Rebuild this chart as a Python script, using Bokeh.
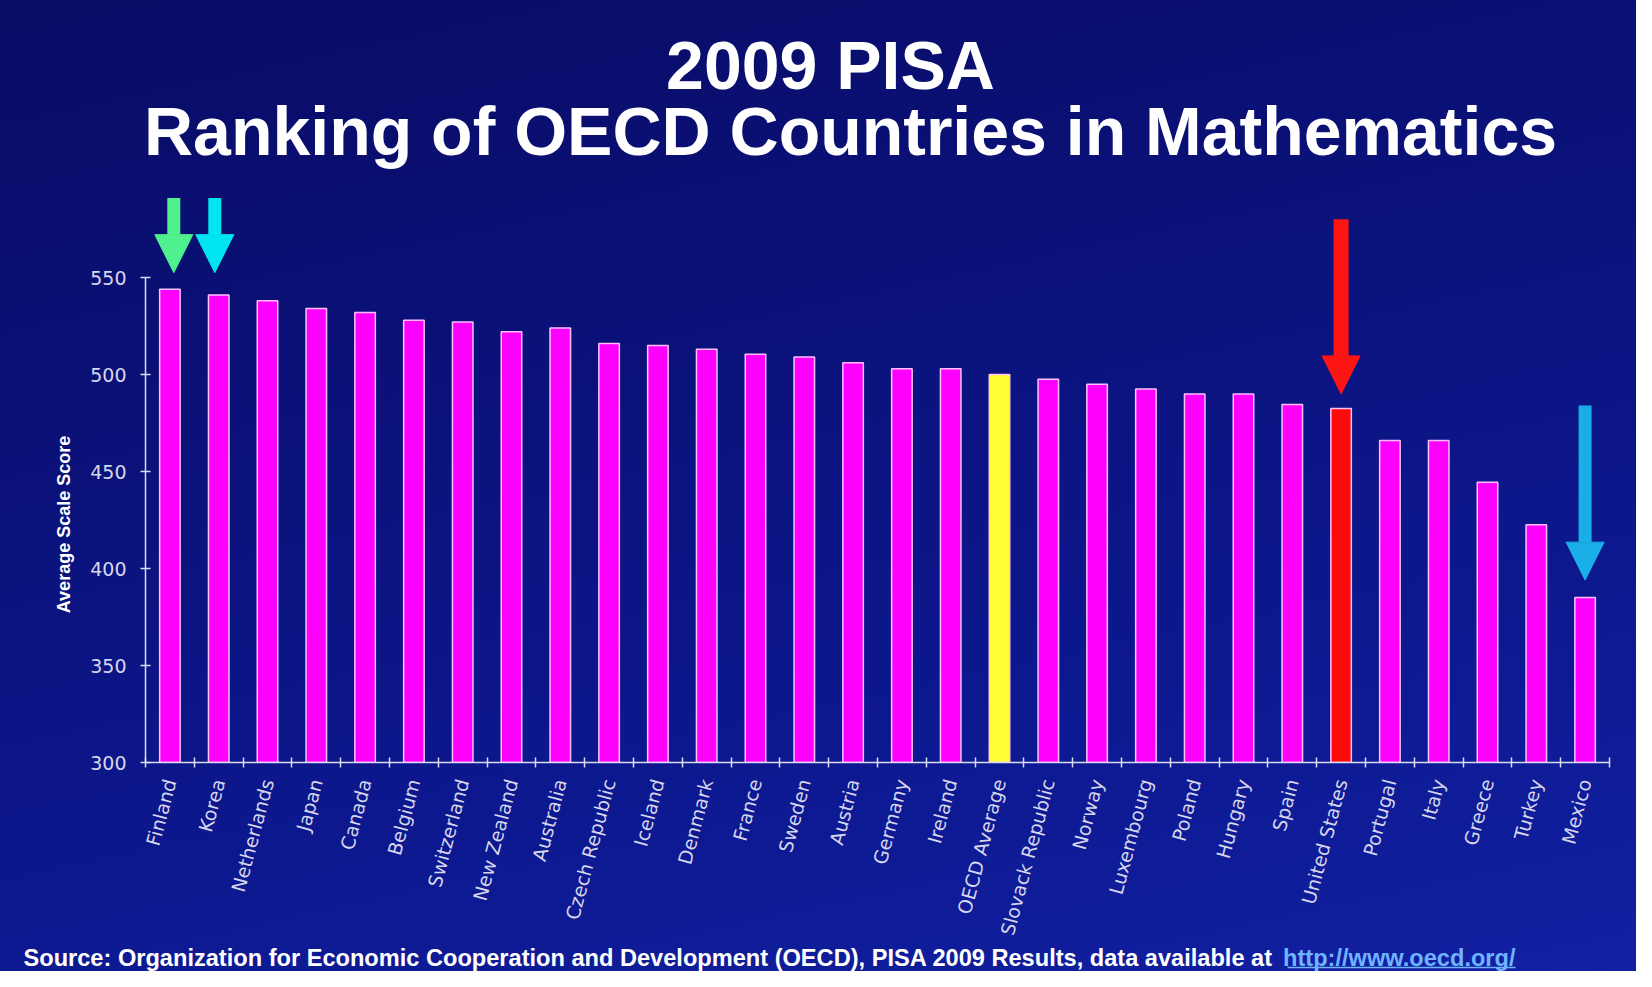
import math
from bokeh.plotting import figure
from bokeh.layouts import column, row
from bokeh.models import Range1d, LinearAxis, FixedTicker, Arrow, NormalHead, ColumnDataSource
from bokeh.core.properties import value
from bokeh.embed import file_html
from bokeh.resources import INLINE

# ---------------- data ----------------
countries = ["Finland", "Korea", "Netherlands", "Japan", "Canada", "Belgium", "Switzerland",
             "New Zealand", "Australia", "Czech Republic", "Iceland", "Denmark", "France",
             "Sweden", "Austria", "Germany", "Ireland", "OECD Average", "Slovack Republic",
             "Norway", "Luxembourg", "Poland", "Hungary", "Spain", "United States",
             "Portugal", "Italy", "Greece", "Turkey", "Mexico"]
scores = [544, 541, 538, 534, 532, 528, 527, 522, 524, 516, 515, 513, 510.5, 509, 506,
          503, 503, 500, 497.5, 495, 492.5, 490, 490, 484.5, 482.5, 466, 466, 444.5, 422.5, 385]
y_ticks = [300, 350, 400, 450, 500, 550]
y_label = "Average Scale Score"

highlight = {"OECD Average": "#ffff33", "United States": "#ff0a0a"}
BAR_COLOR = "#ff00ff"

arrow_targets = ["Finland", "Korea", "United States", "Mexico"]
arrow_colors = ["#4ff08e", "#00e6f0", "#ff1414", "#1aaee6"]
arrow_tail = [591, 591, 580, 484]
arrow_tip = [552.5, 552.5, 490, 394]
arrow_shift = [0.08, -0.08, 0.0, 0.0]
arrow_width = [13, 13, 15, 13]

title_lines = ["2009 PISA", "Ranking of OECD Countries in Mathematics"]
source_text = ("Source: Organization for Economic Cooperation and Development (OECD), "
               "PISA 2009 Results, data available at ")
source_link = "http://www.oecd.org/"

# ---------------- layout (pixels) ----------------
W, H = 1636, 971
TH = 180            # title strip height
SH = 28             # source strip height
MH = H - TH - SH    # main chart height
LW = 80             # y-label strip width
FL, FR, FT, FB = 145 - LW, 27, 0, 180
Y0, Y1 = 300, 600
BG_CSS = {"background": "linear-gradient(168deg, #090c66 0%, #0a1178 35%, #0c178c 65%, "
                        "#1220a2 100%)"}
AXIS_C = "#dcdcf0"
TICK_TXT = "#d6d6ec"
LINK_C = "#6fb4ff"
n = len(countries)


def strip(width, height):
    f = figure(width=width, height=height, x_range=Range1d(0, width), y_range=Range1d(height, 0),
               output_backend="svg", toolbar_location=None, title=None,
               x_axis_location=None, y_axis_location=None, min_border=0, frame_align=False,
               background_fill_color=None, border_fill_color=None, outline_line_color=None)
    f.grid.visible = False
    return f


# ---- title strip ----
tf = strip(W, TH)
tf.text(x=[830, 850], y=[64, 130], text=title_lines,
        text_align="center", text_baseline="alphabetic",
        text_font=value("Liberation Sans"), text_font_style="bold",
        text_font_size="68px", text_color="white")

# ---- y label strip ----
lf = strip(LW, MH)
lf.text(x=[63], y=[344], text=[y_label], angle=math.pi / 2,
        text_align="center", text_baseline="middle",
        text_font=value("Liberation Sans"), text_font_style="bold",
        text_font_size="18px", text_color="white")

# ---- main chart ----
p = figure(width=W - LW, height=MH,
           x_range=Range1d(0, n), y_range=Range1d(Y0, Y1),
           output_backend="svg", toolbar_location=None, title=None,
           x_axis_location=None, y_axis_location=None, frame_align=False,
           min_border_left=FL, min_border_right=FR, min_border_top=FT, min_border_bottom=FB,
           background_fill_color=None, border_fill_color=None, outline_line_color=None)
p.grid.visible = False

centers = [i + 0.5 for i in range(n)]
edges = [float(i) for i in range(n + 1)]
xaxis = LinearAxis(ticker=FixedTicker(ticks=centers, minor_ticks=edges),
                   major_label_overrides={c: name for c, name in zip(centers, countries)},
                   major_tick_in=0, major_tick_out=0, major_tick_line_color=None,
                   minor_tick_in=5, minor_tick_out=5, minor_tick_line_color=AXIS_C,
                   minor_tick_line_width=1.5,
                   axis_line_color=AXIS_C, axis_line_width=1.5,
                   major_label_orientation=math.radians(75),
                   major_label_standoff=12,
                   major_label_text_font="DejaVu Sans",
                   major_label_text_font_size="19px",
                   major_label_text_color=TICK_TXT)
p.add_layout(xaxis, "below")

yaxis = LinearAxis(ticker=FixedTicker(ticks=y_ticks), bounds=(y_ticks[0], y_ticks[-1]),
                   major_tick_in=5, major_tick_out=5, major_tick_line_color=AXIS_C,
                   major_tick_line_width=1.5,
                   minor_tick_line_color=None,
                   axis_line_color=AXIS_C, axis_line_width=1.5,
                   major_label_standoff=14,
                   major_label_text_font="DejaVu Sans",
                   major_label_text_font_size="19px",
                   major_label_text_color=TICK_TXT)
p.add_layout(yaxis, "left")

src = ColumnDataSource(dict(x=centers, country=countries, score=scores,
                            color=[highlight.get(c, BAR_COLOR) for c in countries]))
p.vbar(x="x", top="score", bottom=Y0, width=0.42, source=src,
       fill_color="color", line_color="#ffc0ff", line_width=1.5)

for tgt, col, tail, tip, sh, lw in zip(arrow_targets, arrow_colors, arrow_tail,
                                       arrow_tip, arrow_shift, arrow_width):
    xpos = centers[countries.index(tgt)] + sh
    p.add_layout(Arrow(x_start=xpos, y_start=tail, x_end=xpos, y_end=tip,
                       line_color=col, line_width=lw,
                       end=NormalHead(size=38, fill_color=col, line_color=col, line_width=1)))

# ---- source strip ----
sf = strip(W, SH)
sf.text(x=[23], y=[14], text=[source_text], text_align="left", text_baseline="alphabetic",
        text_font=value("Liberation Sans"), text_font_style="bold",
        text_font_size="23.6px", text_color="white")
sf.text(x=[1515], y=[14], text=[source_link], text_align="right", text_baseline="alphabetic",
        text_font=value("Liberation Sans"), text_font_style="bold",
        text_font_size="23.6px", text_color=LINK_C)
sf.segment(x0=[1287], y0=[24], x1=[1515], y1=[24], line_color=LINK_C, line_width=1.5)

mid = row(lf, p, spacing=0)
layout = column(tf, mid, sf, spacing=0, styles=BG_CSS)
open("out.html", "w").write(file_html(layout, INLINE))
